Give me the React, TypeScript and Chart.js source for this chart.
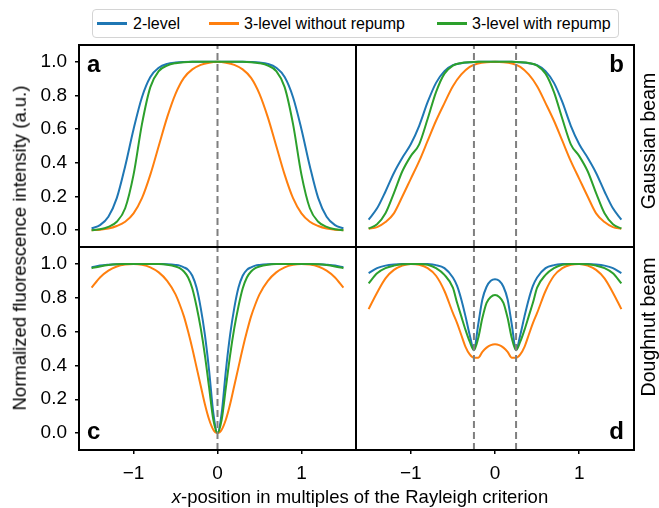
import React, { useEffect, useRef } from 'react';
import { Chart, registerables } from 'chart.js';

Chart.register(...registerables);

// ---------- data ----------
const xCoarse = [
  -1.5, -1.4, -1.3, -1.2, -1.1, -1.0, -0.9, -0.8, -0.7, -0.6, -0.5, -0.4, -0.3, -0.2, -0.1, 0,
  0.1, 0.2, 0.3, 0.4, 0.5, 0.6, 0.7, 0.8, 0.9, 1.0, 1.1, 1.2, 1.3, 1.4, 1.5,
];
const xFine = [
  -1.5, -1.4, -1.3, -1.2, -1.1, -1.0, -0.9, -0.8, -0.7, -0.6, -0.5, -0.45, -0.4, -0.35, -0.3, -0.25,
  -0.2, -0.15, -0.1, -0.05, 0, 0.05, 0.1, 0.15, 0.2, 0.25, 0.3, 0.35, 0.4, 0.45, 0.5, 0.6, 0.7, 0.8,
  0.9, 1.0, 1.1, 1.2, 1.3, 1.4, 1.5,
];

// panel a: Gaussian beam, single emitter
const blueA = [
  0.01, 0.03, 0.08, 0.19, 0.38, 0.6, 0.79, 0.91, 0.965, 0.988, 0.996, 0.999, 1.0, 1.0, 1.0, 1.0,
  1.0, 1.0, 1.0, 0.999, 0.996, 0.988, 0.965, 0.91, 0.79, 0.6, 0.38, 0.19, 0.08, 0.03, 0.01,
];
const orangeA = [
  0.0, 0.003, 0.01, 0.025, 0.05, 0.1, 0.19, 0.33, 0.5, 0.67, 0.81, 0.905, 0.955, 0.982, 0.995, 1.0,
  0.995, 0.982, 0.955, 0.905, 0.81, 0.67, 0.5, 0.33, 0.19, 0.1, 0.05, 0.025, 0.01, 0.003, 0.0,
];
const greenA = [
  0.0, 0.005, 0.02, 0.05, 0.13, 0.33, 0.63, 0.85, 0.945, 0.978, 0.992, 0.998, 1.0, 1.0, 1.0, 1.0,
  1.0, 1.0, 1.0, 0.998, 0.992, 0.978, 0.945, 0.85, 0.63, 0.33, 0.13, 0.05, 0.02, 0.005, 0.0,
];

// panel b: Gaussian beam, two emitters
const blueB = [
  0.063, 0.13, 0.23, 0.34, 0.43, 0.51, 0.62, 0.76, 0.875, 0.945, 0.98, 0.992, 0.997, 1.0, 1.0, 1.0,
  1.0, 1.0, 0.997, 0.992, 0.98, 0.945, 0.875, 0.76, 0.62, 0.51, 0.43, 0.34, 0.23, 0.13, 0.063,
];
const orangeB = [
  0.008, 0.018, 0.048, 0.1, 0.2, 0.305, 0.41, 0.53, 0.65, 0.755, 0.855, 0.925, 0.97, 0.99, 0.998, 1.0,
  0.998, 0.99, 0.97, 0.925, 0.855, 0.755, 0.65, 0.53, 0.41, 0.305, 0.2, 0.1, 0.048, 0.018, 0.008,
];
const greenB = [
  0.01, 0.035, 0.1, 0.22, 0.35, 0.44, 0.51, 0.66, 0.82, 0.93, 0.978, 0.993, 0.998, 1.0, 1.0, 1.0,
  1.0, 1.0, 0.998, 0.993, 0.978, 0.93, 0.82, 0.66, 0.51, 0.44, 0.35, 0.22, 0.1, 0.035, 0.01,
];

// panel c: doughnut beam, single emitter
const blueC = [
  0.98, 0.99, 0.995, 0.998, 1.0, 1.0, 1.0, 1.0, 0.999, 0.998, 0.994, 0.99, 0.98, 0.965, 0.93, 0.86,
  0.74, 0.58, 0.37, 0.12, 0.0, 0.12, 0.37, 0.58, 0.74, 0.86, 0.93, 0.965, 0.98, 0.99, 0.994, 0.998,
  0.999, 1.0, 1.0, 1.0, 1.0, 0.998, 0.995, 0.99, 0.98,
];
const orangeC = [
  0.86, 0.92, 0.96, 0.985, 0.997, 1.0, 0.995, 0.98, 0.95, 0.9, 0.82, 0.76, 0.69, 0.6, 0.5, 0.39,
  0.28, 0.17, 0.08, 0.02, 0.0, 0.02, 0.08, 0.17, 0.28, 0.39, 0.5, 0.6, 0.69, 0.76, 0.82, 0.9,
  0.95, 0.98, 0.995, 1.0, 0.997, 0.985, 0.96, 0.92, 0.86,
];
const greenC = [
  0.975, 0.985, 0.993, 0.998, 1.0, 1.0, 1.0, 1.0, 0.999, 0.995, 0.985, 0.975, 0.955, 0.92, 0.855, 0.75,
  0.62, 0.46, 0.27, 0.08, 0.0, 0.08, 0.27, 0.46, 0.62, 0.75, 0.855, 0.92, 0.955, 0.975, 0.985, 0.995,
  0.999, 1.0, 1.0, 1.0, 1.0, 0.998, 0.993, 0.985, 0.975,
];

// panel d: doughnut beam, two emitters
const blueD = [
  0.945, 0.975, 0.99, 0.997, 1.0, 1.0, 1.0, 0.999, 0.993, 0.975, 0.92, 0.87, 0.79, 0.69, 0.58, 0.49,
  0.64, 0.79, 0.865, 0.9, 0.91, 0.9, 0.865, 0.79, 0.64, 0.49, 0.58, 0.69, 0.79, 0.87, 0.92, 0.975,
  0.993, 0.999, 1.0, 1.0, 1.0, 0.997, 0.99, 0.975, 0.945,
];
const orangeD = [
  0.733, 0.83, 0.915, 0.965, 0.99, 1.0, 0.995, 0.975, 0.93, 0.84, 0.71, 0.65, 0.58, 0.51, 0.465, 0.445,
  0.445, 0.48, 0.505, 0.52, 0.525, 0.52, 0.505, 0.48, 0.445, 0.445, 0.465, 0.51, 0.58, 0.65, 0.71, 0.84,
  0.93, 0.975, 0.995, 1.0, 0.99, 0.965, 0.915, 0.83, 0.733,
];
const greenD = [
  0.885, 0.945, 0.975, 0.99, 0.998, 1.0, 1.0, 0.995, 0.975, 0.935, 0.86, 0.77, 0.69, 0.61, 0.54, 0.49,
  0.56, 0.68, 0.77, 0.805, 0.816, 0.805, 0.77, 0.68, 0.56, 0.49, 0.54, 0.61, 0.69, 0.77, 0.86, 0.935,
  0.975, 0.995, 1.0, 1.0, 0.998, 0.99, 0.975, 0.945, 0.885,
];

const seriesNames = ['2-level', '3-level without repump', '3-level with repump'];
const seriesColors = ['#1f77b4', '#ff7f0e', '#2ca02c'];
const xTicks = [-1, 0, 1];
const yTicks = [0, 0.2, 0.4, 0.6, 0.8, 1.0];
const xRange = [-1.65, 1.65];
const yRange = [-0.1, 1.1];
const markersSingle = [0];
const markersPair = [-0.25, 0.25];
const panelLetters = ['a', 'b', 'c', 'd'];
const rowLabels = ['Gaussian beam', 'Doughnut beam'];
const yTitle = 'Normalized fluorescence intensity (a.u.)';
const xTitleRest = '-position in multiples of the Rayleigh criterion';

// ---------- layout ----------
const W = 659;
const H = 508;
const FONT = '"Liberation Sans", Arial, Helvetica, sans-serif';

type Panel = {
  x: number[];
  series: number[][];
  markers: number[];
  letter: string;
  area: { left: number; right: number; top: number; bottom: number };
  showX: boolean;
  showY: boolean;
  letterRight: boolean;
  letterBottom: boolean;
};

const panels: Panel[] = [
  { x: xCoarse, series: [blueA, orangeA, greenA], markers: markersSingle, letter: panelLetters[0],
    area: { left: 79, right: 356, top: 45, bottom: 247 }, showX: false, showY: true, letterRight: false, letterBottom: false },
  { x: xCoarse, series: [blueB, orangeB, greenB], markers: markersPair, letter: panelLetters[1],
    area: { left: 356, right: 634, top: 45, bottom: 247 }, showX: false, showY: false, letterRight: true, letterBottom: false },
  { x: xFine, series: [blueC, orangeC, greenC], markers: markersSingle, letter: panelLetters[2],
    area: { left: 79, right: 356, top: 247, bottom: 450 }, showX: true, showY: true, letterRight: false, letterBottom: true },
  { x: xFine, series: [blueD, orangeD, greenD], markers: markersPair, letter: panelLetters[3],
    area: { left: 356, right: 634, top: 247, bottom: 450 }, showX: true, showY: false, letterRight: true, letterBottom: true },
];

function fmtX(v: number) {
  if (v === 0) return '0';
  return v < 0 ? '\u2212' + Math.abs(v) : String(v);
}

function buildConfig(p: Panel): any {
  const datasets: any[] = [];
  p.markers.forEach((m) => {
    datasets.push({
      data: [{ x: m, y: yRange[0] }, { x: m, y: yRange[1] }],
      borderColor: '#7f7f7f',
      borderWidth: 2,
      borderDash: [7, 4],
      pointRadius: 0,
      order: 0,
    });
  });
  p.series.forEach((ys, i) => {
    datasets.push({
      label: seriesNames[i],
      data: p.x.map((x, j) => ({ x, y: ys[j] })),
      borderColor: seriesColors[i],
      borderWidth: 2,
      pointRadius: 0,
      cubicInterpolationMode: 'monotone',
      order: 3 - i,
    });
  });

  const framePlugin = {
    id: 'frame',
    afterDraw(chart: any) {
      const { ctx, chartArea } = chart;
      const { left, top, right, bottom } = chartArea;
      ctx.save();
      ctx.strokeStyle = '#000';
      ctx.lineWidth = 2;
      ctx.strokeRect(left, top, right - left, bottom - top);
      ctx.fillStyle = '#000';
      ctx.font = 'bold 24px ' + FONT;
      ctx.textBaseline = 'alphabetic';
      ctx.textAlign = p.letterRight ? 'right' : 'left';
      const tx = p.letterRight ? right - 10 : left + 8;
      const ty = p.letterBottom ? bottom - 11 : top + 27;
      ctx.fillText(p.letter, tx, ty);
      ctx.restore();
    },
  };

  return {
    type: 'line',
    data: { datasets },
    plugins: [framePlugin],
    options: {
      animation: false,
      responsive: false,
      maintainAspectRatio: false,
      events: [],
      layout: {
        padding: {
          left: p.showY ? 0 : p.area.left,
          right: W - p.area.right,
          top: p.area.top,
          bottom: p.showX ? 0 : H - p.area.bottom,
        },
      },
      plugins: { legend: { display: false }, tooltip: { enabled: false } },
      scales: {
        x: {
          type: 'linear',
          min: xRange[0],
          max: xRange[1],
          display: p.showX,
          afterBuildTicks: (s: any) => {
            s.ticks = xTicks.map((v) => ({ value: v }));
          },
          afterFit: (s: any) => {
            s.height = p.showX ? H - p.area.bottom : 0;
          },
          grid: { drawOnChartArea: false, drawTicks: true, tickLength: 4, color: '#000', lineWidth: 1.5 },
          border: { display: false },
          ticks: {
            autoSkip: false,
            maxRotation: 0,
            padding: 8,
            color: '#000',
            font: { family: FONT, size: 19, lineHeight: 1.2 },
            callback: (v: any) => fmtX(Number(v)),
          },
        },
        y: {
          type: 'linear',
          min: yRange[0],
          max: yRange[1],
          display: p.showY,
          afterBuildTicks: (s: any) => {
            s.ticks = yTicks.map((v) => ({ value: v }));
          },
          afterFit: (s: any) => {
            s.width = p.showY ? p.area.left : 0;
          },
          grid: { drawOnChartArea: false, drawTicks: true, tickLength: 4, color: '#000', lineWidth: 1.5 },
          border: { display: false },
          ticks: {
            autoSkip: false,
            padding: 8,
            color: '#000',
            font: { family: FONT, size: 19, lineHeight: 1.2 },
            callback: (v: any) => Number(v).toFixed(1),
          },
        },
      },
    },
  };
}

function PanelChart({ panel }: { panel: Panel }) {
  const ref = useRef<HTMLCanvasElement | null>(null);
  useEffect(() => {
    if (!ref.current) return;
    const chart = new Chart(ref.current, buildConfig(panel));
    return () => chart.destroy();
  }, [panel]);
  return (
    <canvas
      ref={ref}
      width={W}
      height={H}
      style={{ position: 'absolute', left: 0, top: 0, width: W, height: H }}
    />
  );
}

const legendHandleX = [97, 209, 437];
const legendTextX = [133, 244, 472];

export default function App() {
  const legendBox = { left: 92, top: 9, width: 527, height: 29 };
  return (
    <div
      style={{
        position: 'absolute',
        left: 0,
        top: 0,
        width: W,
        height: H,
        background: '#fff',
        fontFamily: FONT,
        color: '#000',
        overflow: 'hidden',
      }}
    >
      {panels.map((p, i) => (
        <PanelChart key={i} panel={p} />
      ))}

      {/* legend */}
      <div
        style={{
          position: 'absolute',
          left: legendBox.left,
          top: legendBox.top,
          width: legendBox.width,
          height: legendBox.height,
          boxSizing: 'border-box',
          border: '1px solid #d4d4d4',
          borderRadius: 4,
          background: '#fff',
        }}
      >
        {seriesNames.map((name, i) => (
          <React.Fragment key={name}>
            <div
              style={{
                position: 'absolute',
                left: legendHandleX[i] - legendBox.left - 1,
                top: 12,
                width: 30,
                height: 2.5,
                background: seriesColors[i],
              }}
            />
            <div
              style={{
                position: 'absolute',
                left: legendTextX[i] - legendBox.left - 1,
                top: 13.5,
                transform: 'translateY(-50%)',
                fontSize: 16,
                lineHeight: 1,
                whiteSpace: 'nowrap',
              }}
            >
              {name}
            </div>
          </React.Fragment>
        ))}
      </div>

      {/* y title */}
      <div
        style={{
          position: 'absolute',
          left: 20,
          top: 248,
          transform: 'translate(-50%, -50%) rotate(-90deg)',
          fontSize: 18.5,
          lineHeight: 1,
          whiteSpace: 'nowrap',
        }}
      >
        {yTitle}
      </div>

      {/* row labels */}
      {rowLabels.map((t, i) => (
        <div
          key={t}
          style={{
            position: 'absolute',
            left: 649,
            top: i === 0 ? 141 : 327,
            transform: 'translate(-50%, -50%) rotate(-90deg)',
            fontSize: 19.5,
            lineHeight: 1,
            whiteSpace: 'nowrap',
          }}
        >
          {t}
        </div>
      ))}

      {/* x title */}
      <div
        style={{
          position: 'absolute',
          left: 360,
          top: 497,
          transform: 'translate(-50%, -50%)',
          fontSize: 18.5,
          lineHeight: 1,
          whiteSpace: 'nowrap',
        }}
      >
        <span style={{ fontStyle: 'italic' }}>x</span>
        {xTitleRest}
      </div>
    </div>
  );
}
